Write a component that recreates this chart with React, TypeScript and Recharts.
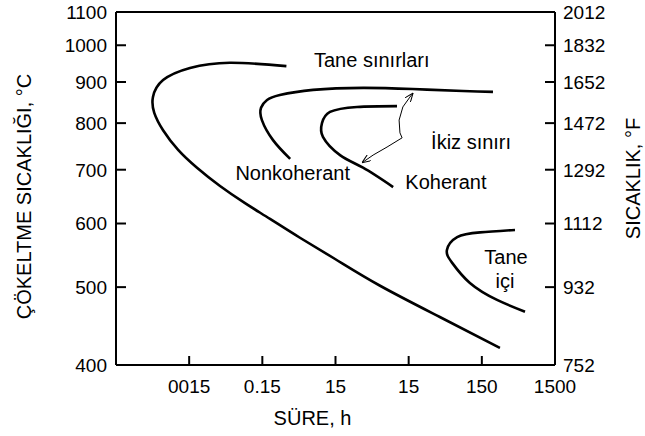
import { ComposedChart, Line, XAxis, YAxis, ReferenceLine, ReferenceDot } from "recharts";

// time axis (h), log scale; the labels are copied as printed
const timeTicks = [0.015, 0.15, 1.5, 15, 150, 1500];
const timeLabels = ["0015", "0.15", "15", "15", "150", "1500"];

// temperature axis (°C), right side shows the same ticks in °F
const celsiusTicks = [400, 500, 600, 700, 800, 900, 1000, 1100];
const fahrenheitLabels = ["752", "932", "1112", "1292", "1472", "1652", "1832", "2012"];

// Tane sınırları (outer C-curve)
const grainTime = [0.32, 0.054, 0.0154, 0.0066, 0.0048, 0.005, 0.0066, 0.0106, 0.0192, 0.0396, 0.087, 0.191, 0.49, 1.48, 6.1, 40, 265];
const grainTemp = [942, 951, 937, 905, 862, 824, 784, 741, 704, 668, 636, 608, 576, 542, 502, 459, 420];

// Nonkoherant ikiz sınırı
const incoherentTime = [0.36, 0.21, 0.148, 0.144, 0.174, 0.26, 0.74, 3.6, 17, 83, 213];
const incoherentTemp = [722, 762, 807, 836, 855, 867, 880, 885, 882, 877, 875];

// Koherant ikiz sınırı
const coherentTime = [10.4, 2.95, 1.26, 0.98, 1.01, 1.73, 3.57, 9.2];
const coherentTemp = [840, 838, 826, 800, 769, 730, 704, 666];

// Tane içi
const intraTime = [426, 142, 69, 50, 59, 103, 242, 584];
const intraTemp = [589, 585, 577, 556, 536, 506, 482, 466];

// arrow from "İkiz sınırı" to both twin boundary curves
const arrowTime = [17.2, 15.6, 12.5, 11.1, 11.4, 12.2, 7.6, 4.9, 3.45];
const arrowTemp = [872, 862, 838, 807, 778, 767, 747, 730, 714];

const notes = [
  { text: "Tane sınırları", t: 4.7, T: 959 },
  { text: "Nonkoherant", t: 0.39, T: 694 },
  { text: "İkiz sınırı", t: 107, T: 758 },
  { text: "Koherant", t: 48.5, T: 676 },
  { text: "Tane", t: 321, T: 545 },
  { text: "içi", t: 311, T: 509 },
];

const toPoints = (t: number[], T: number[]) => t.map((v, i) => ({ t: v, T: T[i] }));

const FONT = "'Liberation Sans', Arial, sans-serif";

const LeftTick = (props: any) => {
  const { x, y, payload } = props;
  const v = payload.value;
  return (
    <g>
      <text x={x - 9} y={y} dy="0.36em" textAnchor="end" fontSize={19} fill="#000" fontFamily={FONT}>
        {v}
      </text>
      {v > 400 && v < 1100 && <line x1={x} x2={x + 10} y1={y} y2={y} stroke="#000" strokeWidth={2} />}
    </g>
  );
};

const RightTick = (props: any) => {
  const { x, y, payload, index } = props;
  const v = payload.value;
  return (
    <g>
      <text x={x + 8} y={y} dy="0.36em" textAnchor="start" fontSize={19} fill="#000" fontFamily={FONT}>
        {fahrenheitLabels[index]}
      </text>
      {v > 400 && v < 1100 && <line x1={x - 10} x2={x} y1={y} y2={y} stroke="#000" strokeWidth={2} />}
    </g>
  );
};

const BottomTick = (props: any) => {
  const { x, y, payload, index } = props;
  return (
    <g>
      <text x={x} y={y + 28} textAnchor="middle" fontSize={19} fill="#000" fontFamily={FONT}>
        {timeLabels[index]}
      </text>
      {payload.value < 1500 && <line x1={x} x2={x} y1={y - 9} y2={y} stroke="#000" strokeWidth={2} />}
    </g>
  );
};

const xTitle = (props: any) => {
  const vb = props.viewBox;
  return (
    <text x={vb.x + vb.width / 2 - 23} y={vb.y + 60} textAnchor="middle" fontSize={20} fill="#000" fontFamily={FONT}>
      SÜRE, h
    </text>
  );
};

const leftTitle = (props: any) => {
  const vb = props.viewBox;
  const cx = vb.x + 24;
  const cy = vb.y + vb.height / 2 + 8;
  return (
    <text
      x={cx}
      y={cy}
      dy="0.36em"
      textAnchor="middle"
      fontSize={20}
      fill="#000"
      fontFamily={FONT}
      transform={`rotate(-90 ${cx} ${cy})`}
    >
      ÇÖKELTME SICAKLIĞI, °C
    </text>
  );
};

const rightTitle = (props: any) => {
  const vb = props.viewBox;
  const cx = vb.x + 78;
  const cy = vb.y + vb.height / 2 - 10;
  return (
    <text
      x={cx}
      y={cy}
      dy="0.36em"
      textAnchor="middle"
      fontSize={20}
      fill="#000"
      fontFamily={FONT}
      transform={`rotate(-90 ${cx} ${cy})`}
    >
      SICAKLIK, °F
    </text>
  );
};

const curveProps = {
  xAxisId: "t",
  yAxisId: "c",
  dataKey: "T",
  stroke: "#000",
  strokeWidth: 2.6,
  dot: false,
  activeDot: false,
  isAnimationActive: false,
  legendType: "none" as const,
};

export default function App() {
  return (
    <div style={{ position: "absolute", left: 0, top: 0, background: "#fff" }}>
      <ComposedChart width={645} height={436} margin={{ top: 12, right: 0, bottom: 0, left: 0 }} style={{ fontFamily: FONT }}>
        <defs>
          <marker id="arrowHead" viewBox="0 0 10 8" refX="10" refY="4" markerWidth="9" markerHeight="7" orient="auto-start-reverse" markerUnits="userSpaceOnUse">
            <path d="M0,0 L10,4 L0,8" fill="none" stroke="#000" strokeWidth={1.2} />
          </marker>
        </defs>
        <XAxis
          xAxisId="t"
          dataKey="t"
          type="number"
          scale="log"
          domain={[0.0015, 1500]}
          allowDataOverflow
          ticks={timeTicks}
          interval={0}
          height={71}
          tickSize={0}
          tickMargin={0}
          tickLine={false}
          axisLine={{ stroke: "#000", strokeWidth: 2 }}
          tick={<BottomTick />}
          label={xTitle}
        />
        <YAxis
          yAxisId="c"
          type="number"
          scale="log"
          domain={[400, 1100]}
          allowDataOverflow
          ticks={celsiusTicks}
          interval={0}
          width={116}
          tickSize={0}
          tickMargin={0}
          tickLine={false}
          axisLine={{ stroke: "#000", strokeWidth: 2 }}
          tick={<LeftTick />}
          label={leftTitle}
        />
        <YAxis
          yAxisId="f"
          orientation="right"
          type="number"
          scale="log"
          domain={[400, 1100]}
          allowDataOverflow
          ticks={celsiusTicks}
          interval={0}
          width={90}
          tickSize={0}
          tickMargin={0}
          tickLine={false}
          axisLine={{ stroke: "#000", strokeWidth: 2 }}
          tick={<RightTick />}
          label={rightTitle}
        />
        <ReferenceLine xAxisId="t" yAxisId="c" y={1100} stroke="#000" strokeWidth={2} />

        <Line {...curveProps} data={toPoints(grainTime, grainTemp)} type="natural" />
        <Line {...curveProps} data={toPoints(incoherentTime, incoherentTemp)} type="natural" />
        <Line {...curveProps} data={toPoints(coherentTime, coherentTemp)} type="natural" />
        <Line {...curveProps} data={toPoints(intraTime, intraTemp)} type="natural" />
        <Line
          {...curveProps}
          data={toPoints(arrowTime, arrowTemp)}
          type="linear"
          strokeWidth={1}
          markerStart="url(#arrowHead)"
          markerEnd="url(#arrowHead)"
        />

        {notes.map((n) => (
          <ReferenceDot
            key={n.text}
            xAxisId="t"
            yAxisId="c"
            x={n.t}
            y={n.T}
            r={0}
            fill="none"
            stroke="none"
            label={{ value: n.text, position: "center", fill: "#000", fontSize: 20, fontFamily: FONT }}
          />
        ))}
      </ComposedChart>
    </div>
  );
}
